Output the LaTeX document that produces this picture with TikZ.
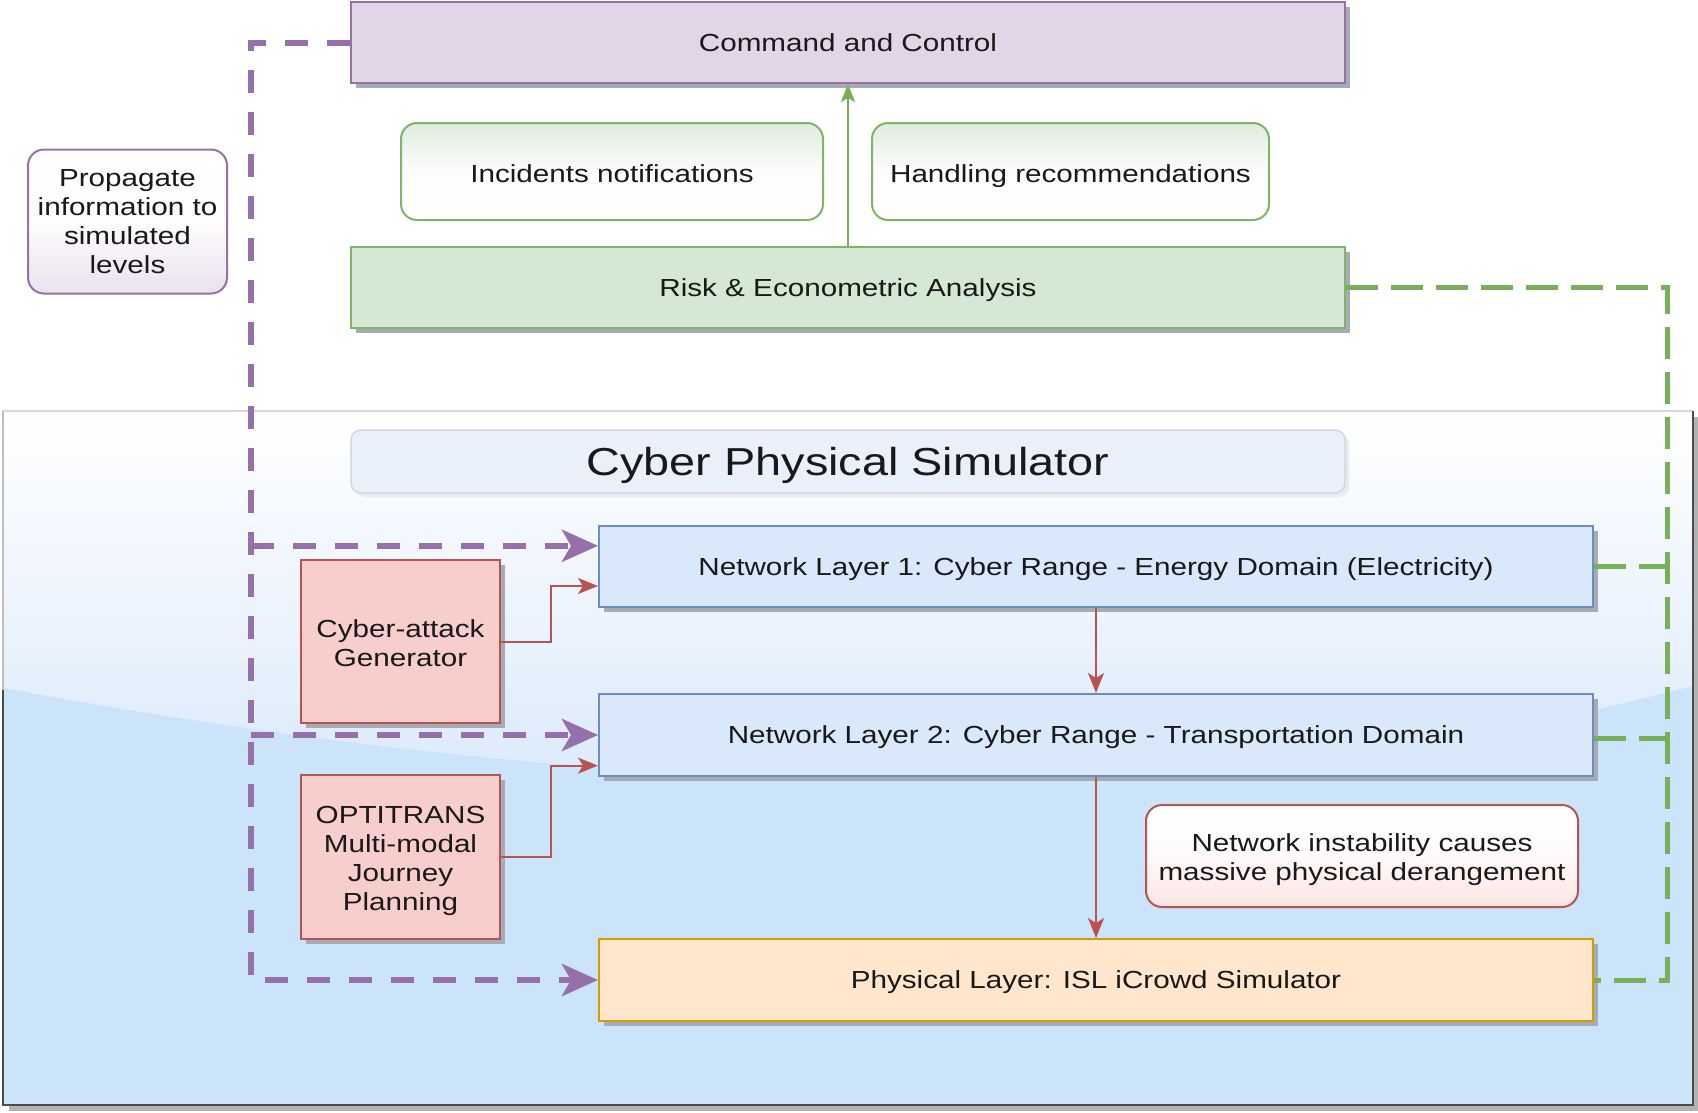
\documentclass[tikz,border=0pt]{standalone}
\usepackage{fontspec}
\setmainfont[FakeStretch=1.2]{Liberation Sans}
\usetikzlibrary{arrows.meta,shadows,calc}
\definecolor{ccfill}{HTML}{E1D5E7}
\definecolor{ccdraw}{HTML}{9673A6}
\definecolor{gfill}{HTML}{D5E8D4}
\definecolor{gdraw}{HTML}{82B366}
\definecolor{bfill}{HTML}{DAE8FC}
\definecolor{bdraw}{HTML}{6C8EBF}
\definecolor{ofill}{HTML}{FFE6CC}
\definecolor{odraw}{HTML}{D79B00}
\definecolor{rfill}{HTML}{F8CECC}
\definecolor{rdraw}{HTML}{B85450}
\definecolor{simlow}{RGB}{204,228,250}
\definecolor{simmid}{RGB}{218,233,251}
\definecolor{titfill}{RGB}{234,240,250}
\definecolor{titdraw}{RGB}{208,216,226}
\definecolor{txt}{RGB}{25,25,25}
\definecolor{shad}{RGB}{165,172,182}
\definecolor{pline}{RGB}{150,112,170}
\definecolor{gline}{RGB}{120,176,90}
\begin{document}
\begin{tikzpicture}[x=1pt,y=-1pt,
  font=\fontsize{24.7}{29}\selectfont, text=txt,
  oneline/.style={text height=20pt, text depth=2.3pt},
  box/.style={draw, line width=2pt, inner sep=0pt, align=center,
    drop shadow={shadow xshift=5pt,shadow yshift=-5pt,fill=shad,opacity=1}},
  glassbox/.style={draw, line width=2pt, inner sep=0pt, align=center, rounded corners=16pt},
  ccbox/.style={box, oneline, fill=ccfill, draw=ccdraw, minimum width=994pt, minimum height=81pt},
  gbox/.style={box, oneline, fill=gfill, draw=gdraw, minimum width=994pt, minimum height=81pt},
  nlbox/.style={box, oneline, fill=bfill, draw=bdraw, minimum width=994pt, minimum height=81pt},
  physbox/.style={box, oneline, fill=ofill, draw=odraw, minimum width=994pt, minimum height=82pt},
  redbox/.style={box, fill=rfill, draw=rdraw, minimum width=199pt, minimum height=163pt},
  pdash/.style={draw=pline, line width=6pt, dash pattern=on 23pt off 19pt},
  gdash/.style={draw=gline, line width=5pt, dash pattern=on 32pt off 13pt},
  parrow/.style={-{Stealth[length=36pt,width=32pt,inset=9pt]}},
  rarrow/.style={draw=rdraw, line width=2pt, -{Stealth[length=20pt,width=16pt,inset=5pt]}},
  garrow/.style={draw=gline, line width=2.5pt, -{Stealth[length=18pt,width=14pt,inset=4pt]}}
]
\useasboundingbox (0,0) rectangle (1698,1112);
\fill[white] (0,0) rectangle (1698,1112);
% simulator container
\fill[black!30] (9,417) rectangle (1698,1111);
\shade[top color=white, bottom color=simmid] (3,411) rectangle (1693,800);
\fill[simlow] (3,688) .. controls (560,790) and (1140,830) .. (1693,686) -- (1693,1105) -- (3,1105) -- cycle;
\draw[black!15, line width=1.5pt] (3,1105) -- (3,411) -- (1693,411);
\draw[black!70, line width=2pt] (3,690) -- (3,1105) -- (1693,1105) -- (1693,411);
\draw[black!25, line width=1.5pt] (3,411) -- (3,690);

% nodes
\node[ccbox] (cc) at (848,42.5) {Command and Control};
\node[glassbox, text height=24pt, text depth=1.9pt, draw=gdraw, top color=gfill!80, bottom color=white, middle color=white!92!gfill,
      minimum width=422pt, minimum height=97pt] (inc) at (612,171.5) {Incidents notifications};
\node[glassbox, text height=24pt, text depth=1.9pt, draw=gdraw, top color=gfill!80, bottom color=white, middle color=white!92!gfill,
      minimum width=397pt, minimum height=97pt] (hand) at (1070.5,171.5) {Handling recommendations};
\node[gbox] (risk) at (848,287.5) {Risk \& Econometric Analysis};
\node[glassbox, draw=ccdraw, top color=white, bottom color=ccfill!70, middle color=white!95!ccfill,
      minimum width=199pt, minimum height=144pt] (prop) at (127.5,221.5) {Propagate\\information to\\simulated\\levels};
\node[draw=titdraw, line width=1.5pt, rounded corners=10pt, fill=titfill, minimum width=994pt, minimum height=63pt,
      font=\fontsize{39}{44}\selectfont, text height=30pt, text depth=2pt,
      drop shadow={shadow xshift=4pt,shadow yshift=-4pt,fill=black!8,opacity=1}] (title) at (848,461.5) {Cyber Physical Simulator};
\node[nlbox] (nl1) at (1096,566.5) {Network Layer 1: Cyber Range - Energy Domain (Electricity)};
\node[nlbox, minimum height=82pt] (nl2) at (1096,735) {Network Layer 2: Cyber Range - Transportation Domain};
\node[physbox] (phys) at (1096,980) {Physical Layer: ISL iCrowd Simulator};
\node[redbox] (cag) at (400.5,641.5) {\rule{0pt}{21pt}Cyber-attack\\Generator};
\node[redbox, minimum height=164pt] (opt) at (400.5,857) {\rule{0pt}{25.7pt}OPTITRANS\\Multi-modal\\Journey\\Planning};
\node[glassbox, draw=rdraw, top color=white, bottom color=rfill!55, middle color=white!90!rfill,
      minimum width=432pt, minimum height=102pt] (ni) at (1362,856) {\rule{0pt}{26pt}Network instability causes\\massive physical derangement};

% green arrow
\draw[garrow] (risk.north) -- (cc.south);

% purple dashed
\coordinate (pv) at (251,980);
\draw[pdash, parrow] (cc.west) -| (pv) -- (phys.west);
\draw[pdash, parrow] ([yshift=20.7pt]nl1.west -| pv) -- ([yshift=20.7pt]nl1.west);
\draw[pdash, parrow] (nl2.west -| pv) -- (nl2.west);

% green dashed
\coordinate (gv) at (1667,980);
\draw[gdash] (risk.east) -| (gv) -- (phys.east);
\draw[gdash] (nl1.east) -- (nl1.east -| gv);
\draw[gdash] ([yshift=-3pt]nl2.east) -- ([yshift=-3pt]nl2.east -| gv);

% red arrows
\draw[rarrow] (cag.east) -- ++(50,0) |- ([yshift=-19.5pt]nl1.west);
\draw[rarrow] (opt.east) -- ++(50,0) |- ([yshift=-30.6pt]nl2.west);
\draw[rarrow] (nl1.south) -- (nl2.north);
\draw[rarrow] (nl2.south) -- (phys.north);
\end{tikzpicture}
\end{document}
